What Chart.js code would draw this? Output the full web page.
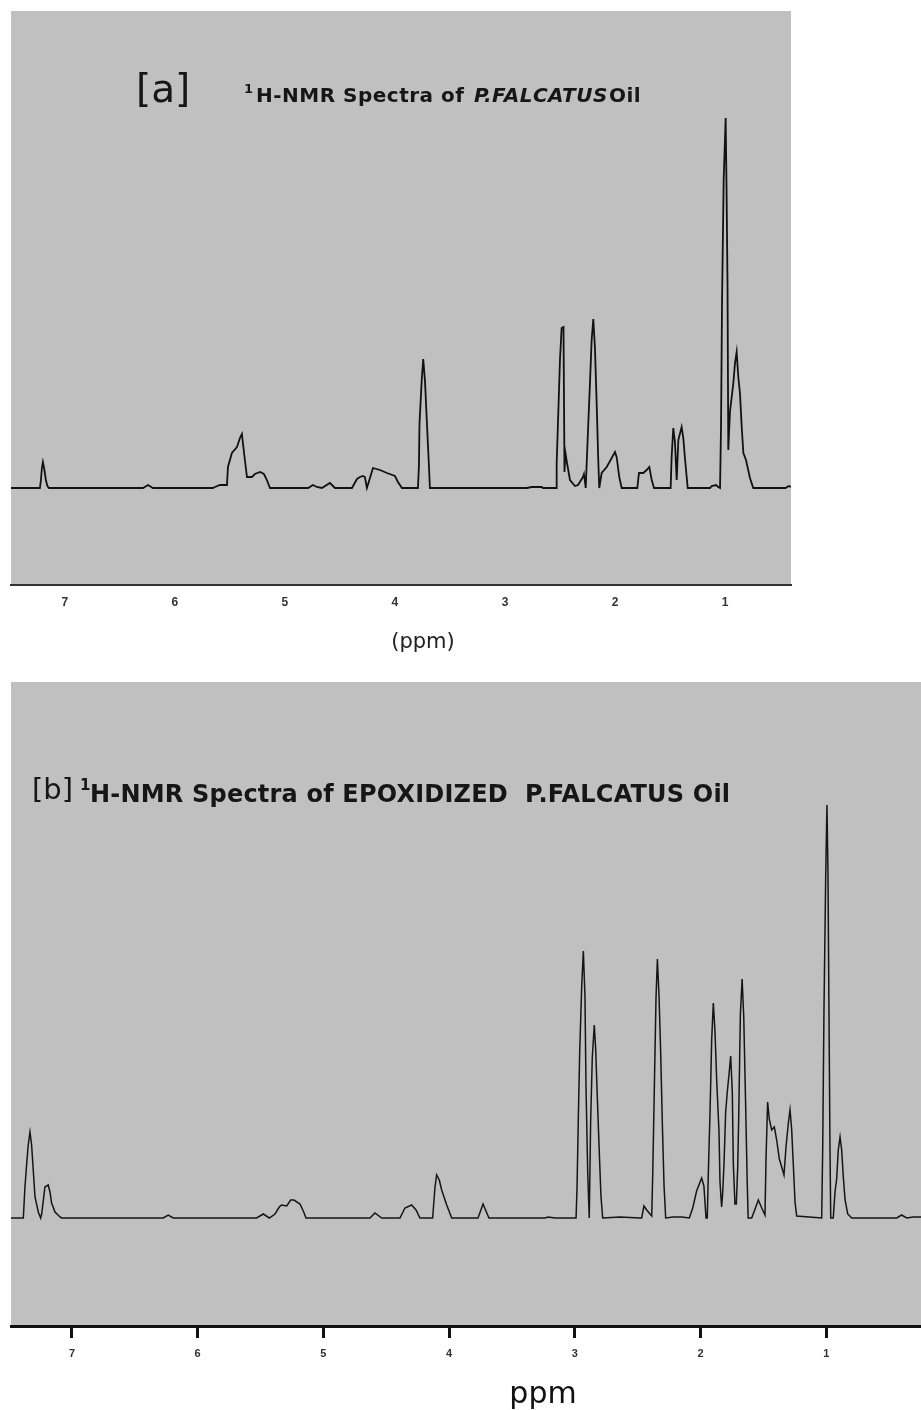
<!DOCTYPE html>
<html><head><meta charset="utf-8">
<script src="https://cdn.jsdelivr.net/npm/chart.js@4.4.1/dist/chart.umd.min.js"></script>
<style>
html,body{margin:0;padding:0;background:#fff}
body{width:921px;height:1410px;position:relative;overflow:hidden}
#wa{position:absolute;left:0;top:0;width:921px;height:665px}
#wb{position:absolute;left:0;top:670px;width:921px;height:740px}
</style></head><body>
<div id="wa"><canvas id="ca"></canvas></div>
<div id="wb"><canvas id="cb"></canvas></div>
<script>
// ---- DATA ----
const xTicks = [1, 2, 3, 4, 5, 6, 7];

// [a] 1H-NMR of P. falcatus oil: chemical shift (ppm) and relative intensity
const aPpm = [7.49,7.227,7.218,7.209,7.2,7.186,7.173,7.159,7.145,6.29,6.245,6.2,5.655,5.636,5.591,5.527,5.518,5.482,5.436,5.409,5.391,5.382,5.364,5.345,5.3,5.273,5.227,5.191,5.164,5.136,4.79,4.745,4.71,4.664,4.591,4.545,4.391,4.345,4.318,4.291,4.273,4.255,4.227,4.2,4.136,4.073,4.0,3.973,3.936,3.791,3.782,3.777,3.757,3.743,3.727,3.709,3.691,3.682,2.8,2.757,2.666,2.655,2.535,2.53,2.515,2.5,2.485,2.468,2.459,2.45,2.436,2.409,2.364,2.336,2.291,2.282,2.266,2.257,2.243,2.227,2.212,2.197,2.182,2.166,2.152,2.143,2.121,2.075,2.0,1.985,1.961,1.939,1.797,1.782,1.743,1.712,1.688,1.666,1.645,1.494,1.485,1.47,1.455,1.439,1.424,1.394,1.379,1.364,1.339,1.136,1.121,1.082,1.061,1.045,1.036,1.027,1.012,0.994,0.986,0.977,0.970,0.955,0.924,0.909,0.894,0.879,0.864,0.848,0.833,0.809,0.773,0.743,0.45,0.42,0.40];
const aInt = [0,0,8,20,26,18,8,2,0,0,3,0,0,1,3,3,21,35,41,50,54,45,28,11,11,14,16,14,8,0,0,3,1,0,5,0,0,9,11,12,11,0,10,20,18,15,12,6,0,0,22,64,107,129,107,64,22,0,0,1,1,0,0,25,76,128,160,161,16,35,25,8,2,3,11,14,0,25,63,106,148,169,140,83,28,0,15,21,36,31,11,0,0,15,15,18,21,8,0,0,31,60,46,8,48,61,50,30,0,0,2,3,1,0,61,185,308,370,300,203,38,76,105,125,136,111,95,61,35,28,10,0,0,2,1];

// [b] 1H-NMR of epoxidized P. falcatus oil
const bPpm = [7.485,7.387,7.374,7.361,7.348,7.334,7.321,7.308,7.294,7.268,7.249,7.241,7.215,7.189,7.175,7.162,7.135,7.095,7.082,6.274,6.234,6.194,5.531,5.478,5.43,5.385,5.351,5.332,5.292,5.26,5.234,5.186,5.16,5.138,4.629,4.59,4.536,4.391,4.351,4.298,4.263,4.232,4.131,4.112,4.099,4.078,4.059,4.019,3.979,3.77,3.73,3.683,3.237,3.213,3.157,2.990,2.982,2.972,2.961,2.945,2.932,2.919,2.911,2.897,2.885,2.874,2.861,2.845,2.834,2.821,2.807,2.792,2.778,2.64,2.481,2.468,2.45,2.428,2.388,2.38,2.367,2.354,2.343,2.33,2.317,2.304,2.29,2.277,2.216,2.15,2.089,2.062,2.031,1.991,1.973,1.956,1.946,1.938,1.924,1.911,1.898,1.885,1.871,1.853,1.845,1.832,1.824,1.813,1.8,1.787,1.773,1.76,1.747,1.739,1.726,1.715,1.704,1.696,1.683,1.669,1.656,1.642,1.629,1.621,1.593,1.566,1.54,1.513,1.487,1.479,1.466,1.453,1.434,1.413,1.394,1.373,1.354,1.336,1.32,1.302,1.288,1.275,1.262,1.248,1.235,1.036,1.028,1.018,1.004,0.994,0.986,0.978,0.97,0.964,0.944,0.93,0.917,0.904,0.89,0.877,0.864,0.85,0.829,0.797,0.439,0.4,0.36,0.307,0.246];
const bInt = [0,0,31,53,73,86,73,48,21,6,0,4,31,33,26,15,6,1,0,0,3,0,0,4,0,4,11,13,12,18,18,14,7,0,0,5,0,0,10,13,8,0,0,31,43,38,28,13,0,0,14,0,0,1,0,0,32,99,166,232,267,221,132,44,0,96,160,193,169,121,72,22,0,1,0,0,12,8,2,44,132,220,259,222,166,96,32,0,1,1,0,10,27,40,32,0,0,44,107,179,215,187,137,87,36,11,24,54,106,126,144,162,126,54,14,14,51,101,203,239,201,119,39,0,0,9,18,10,3,59,116,99,88,91,78,59,51,43,71,94,108,89,54,16,2,0,69,206,343,413,345,206,69,0,0,26,39,68,81,68,41,18,4,0,0,3,0,1,1];

const aTitle = { tag: '[a]', sup: '1', main: 'H-NMR Spectra of ', species: 'P.FALCATUS', tail: 'Oil' };
const bTitle = { tag: '[b]', sup: '1', main: 'H-NMR Spectra of EPOXIDIZED  P.FALCATUS Oil' };
const aAxisTitle = '(ppm)';
const bAxisTitle = 'ppm';

// ---- HELPERS ----
const pts = (xs, ys) => xs.map((x, i) => ({ x: x, y: ys[i] }));

const bgPlugin = {
  id: 'bg',
  beforeDraw(chart) {
    const a = chart.chartArea, ctx = chart.ctx;
    ctx.save();
    ctx.fillStyle = '#c0c0c0';
    ctx.fillRect(a.left, a.top, a.right - a.left, a.bottom - a.top);
    ctx.restore();
  }
};

function baseOptions(xmin, xmax, ymin, ymax, pad, axisH, tickOpts, gridOpts, borderOpts) {
  return {
    responsive: true,
    maintainAspectRatio: false,
    animation: false,
    devicePixelRatio: 1,
    layout: { padding: pad },
    plugins: { legend: { display: false }, tooltip: { enabled: false }, title: { display: false } },
    elements: { point: { radius: 0 }, line: { tension: 0 } },
    scales: {
      x: {
        type: 'linear', reverse: true, min: xmin, max: xmax,
        afterBuildTicks: s => { s.ticks = xTicks.map(v => ({ value: v })); },
        afterFit: s => { s.height = axisH; },
        ticks: tickOpts,
        grid: gridOpts,
        border: borderOpts
      },
      y: { display: false, min: ymin, max: ymax }
    }
  };
}

// ---- CHART A ----
const textA = {
  id: 'textA',
  afterDraw(chart) {
    const ctx = chart.ctx;
    ctx.save();
    ctx.fillStyle = '#161616';
    ctx.textBaseline = 'alphabetic';
    ctx.font = '39px "DejaVu Sans"';
    ctx.fillText(aTitle.tag, 136, 102);
    ctx.font = 'bold 13px "DejaVu Sans"';
    ctx.fillText(aTitle.sup, 244, 93);
    ctx.letterSpacing = '0.5px';
    let x = 256;
    ctx.font = 'bold 20px "DejaVu Sans"';
    ctx.fillText(aTitle.main, x, 102);
    x += ctx.measureText(aTitle.main).width + 2;
    ctx.font = 'italic bold 20px "DejaVu Sans"';
    ctx.fillText(aTitle.species, x, 102);
    x += ctx.measureText(aTitle.species).width + 1;
    ctx.font = 'bold 20px "DejaVu Sans"';
    ctx.fillText(aTitle.tail, x, 102);
    ctx.letterSpacing = '0px';
    ctx.fillStyle = '#222';
    ctx.font = '21px "DejaVu Sans"';
    ctx.textAlign = 'center';
    ctx.fillText(aAxisTitle, 423, 648);
    ctx.restore();
  }
};

new Chart(document.getElementById('ca'), {
  type: 'line',
  data: { datasets: [{ data: pts(aPpm, aInt), borderColor: '#111', borderWidth: 1.8, fill: false, pointRadius: 0 }] },
  options: baseOptions(0.40, 7.49, -97, 477, { left: 11, top: 11, right: 130, bottom: 0 }, 80,
    { color: '#333', font: { family: '"Liberation Sans", Arial', size: 12, weight: 'bold' }, padding: 10, maxRotation: 0 },
    { display: true, drawOnChartArea: false, drawTicks: false },
    { display: true, color: '#333', width: 2 }),
  plugins: [bgPlugin, textA]
});

// ---- CHART B ----
const textB = {
  id: 'textB',
  afterDraw(chart) {
    const ctx = chart.ctx;
    ctx.save();
    ctx.fillStyle = '#161616';
    ctx.textBaseline = 'alphabetic';
    ctx.font = '29px "DejaVu Sans"';
    ctx.fillText(bTitle.tag, 32, 129);
    ctx.font = 'bold 15px "DejaVu Sans"';
    ctx.fillText(bTitle.sup, 80, 120);
    ctx.letterSpacing = '0.2px';
    ctx.font = 'bold 24px "DejaVu Sans"';
    ctx.fillText(bTitle.main, 90, 132);
    ctx.letterSpacing = '0px';
    ctx.fillStyle = '#111';
    ctx.font = '30px "DejaVu Sans"';
    ctx.textAlign = 'center';
    ctx.fillText(bAxisTitle, 543, 733);
    ctx.restore();
  }
};

new Chart(document.getElementById('cb'), {
  type: 'line',
  data: { datasets: [{ data: pts(bPpm, bInt), borderColor: '#151515', borderWidth: 1.5, fill: false, pointRadius: 0 }] },
  options: baseOptions(0.246, 7.485, -108, 536, { left: 11, top: 12, right: 0, bottom: 0 }, 84,
    { color: '#333', font: { family: '"Liberation Sans", Arial', size: 11, weight: 'bold' }, padding: 9, maxRotation: 0 },
    { display: true, drawOnChartArea: false, drawTicks: true, tickLength: 12, color: '#111', lineWidth: 3 },
    { display: true, color: '#111', width: 3 }),
  plugins: [bgPlugin, textB]
});
</script>
</body></html>
